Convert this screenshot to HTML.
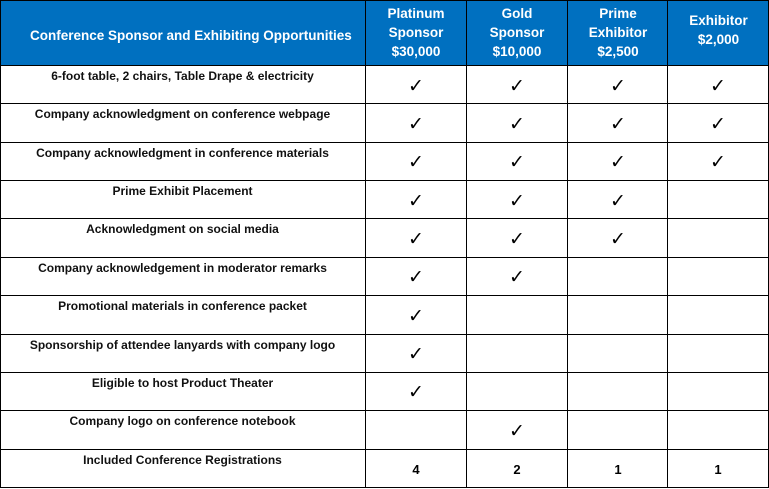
<!DOCTYPE html>
<html><head><meta charset="utf-8"><style>
body{margin:0;width:769px;height:489px;background:#fff;font-family:"Liberation Sans",Arial,sans-serif;overflow:hidden;position:relative}
.hd{position:absolute;left:0;top:0;width:769px;height:65px;background:#0070C0}
.h{position:absolute;top:4px;color:#fff;font-weight:bold;font-size:13.5px;line-height:19px;text-align:center}
.v{position:absolute;top:0;width:1px;height:488px;background:#000}
.hl{position:absolute;left:0;width:769px;height:1px;background:#000}
.l{position:absolute;left:0;width:365px;text-align:center;font-weight:bold;font-size:12px;line-height:14px;color:#111}
.c{position:absolute;font-size:19px;line-height:20px;text-align:center;width:100px}
.n{position:absolute;font-weight:bold;font-size:13px;line-height:14px;text-align:center;width:100px}
</style></head><body>
<div class="hd"></div>
<div class="h" style="left:0;width:365px;top:26px;text-align:left;padding-left:30px">Conference Sponsor and Exhibiting Opportunities</div>
<div class="h" style="left:366px;width:100px">Platinum<br>Sponsor<br>$30,000</div>
<div class="h" style="left:467px;width:100px">Gold<br>Sponsor<br>$10,000</div>
<div class="h" style="left:568px;width:100px">Prime<br>Exhibitor<br>$2,500</div>
<div class="h" style="left:668px;width:101px;top:11px">Exhibitor<br>$2,000</div>

<div class="v" style="left:0"></div><div class="v" style="left:365px"></div><div class="v" style="left:466px"></div><div class="v" style="left:567px"></div><div class="v" style="left:667px"></div><div class="v" style="left:768px"></div>
<div class="hl" style="top:0"></div>
<div class="hl" style="top:65px"></div><div class="hl" style="top:103px"></div><div class="hl" style="top:142px"></div><div class="hl" style="top:180px"></div><div class="hl" style="top:218px"></div><div class="hl" style="top:257px"></div><div class="hl" style="top:295px"></div><div class="hl" style="top:334px"></div><div class="hl" style="top:372px"></div><div class="hl" style="top:410px"></div><div class="hl" style="top:449px"></div><div class="hl" style="top:487px"></div>

<div class="l" style="top:69px">6-foot table, 2 chairs, Table Drape &amp; electricity</div>
<div class="l" style="top:107px">Company acknowledgment on conference webpage</div>
<div class="l" style="top:146px">Company acknowledgment in conference materials</div>
<div class="l" style="top:184px">Prime Exhibit Placement</div>
<div class="l" style="top:222px">Acknowledgment on social media</div>
<div class="l" style="top:261px">Company acknowledgement in moderator remarks</div>
<div class="l" style="top:299px">Promotional materials in conference packet</div>
<div class="l" style="top:338px">Sponsorship of attendee lanyards with company logo</div>
<div class="l" style="top:376px">Eligible to host Product Theater</div>
<div class="l" style="top:414px">Company logo on conference notebook</div>
<div class="l" style="top:453px">Included Conference Registrations</div>

<div class="c" style="left:366px;top:77px">✓</div><div class="c" style="left:467px;top:77px">✓</div><div class="c" style="left:568px;top:77px">✓</div><div class="c" style="left:668px;top:77px">✓</div>
<div class="c" style="left:366px;top:115px">✓</div><div class="c" style="left:467px;top:115px">✓</div><div class="c" style="left:568px;top:115px">✓</div><div class="c" style="left:668px;top:115px">✓</div>
<div class="c" style="left:366px;top:153px">✓</div><div class="c" style="left:467px;top:153px">✓</div><div class="c" style="left:568px;top:153px">✓</div><div class="c" style="left:668px;top:153px">✓</div>
<div class="c" style="left:366px;top:192px">✓</div><div class="c" style="left:467px;top:192px">✓</div><div class="c" style="left:568px;top:192px">✓</div>
<div class="c" style="left:366px;top:230px">✓</div><div class="c" style="left:467px;top:230px">✓</div><div class="c" style="left:568px;top:230px">✓</div>
<div class="c" style="left:366px;top:268px">✓</div><div class="c" style="left:467px;top:268px">✓</div>
<div class="c" style="left:366px;top:307px">✓</div>
<div class="c" style="left:366px;top:345px">✓</div>
<div class="c" style="left:366px;top:383px">✓</div>
<div class="c" style="left:467px;top:422px">✓</div>
<div class="n" style="left:366px;top:463px">4</div><div class="n" style="left:467px;top:463px">2</div><div class="n" style="left:568px;top:463px">1</div><div class="n" style="left:668px;top:463px">1</div>
</body></html>
